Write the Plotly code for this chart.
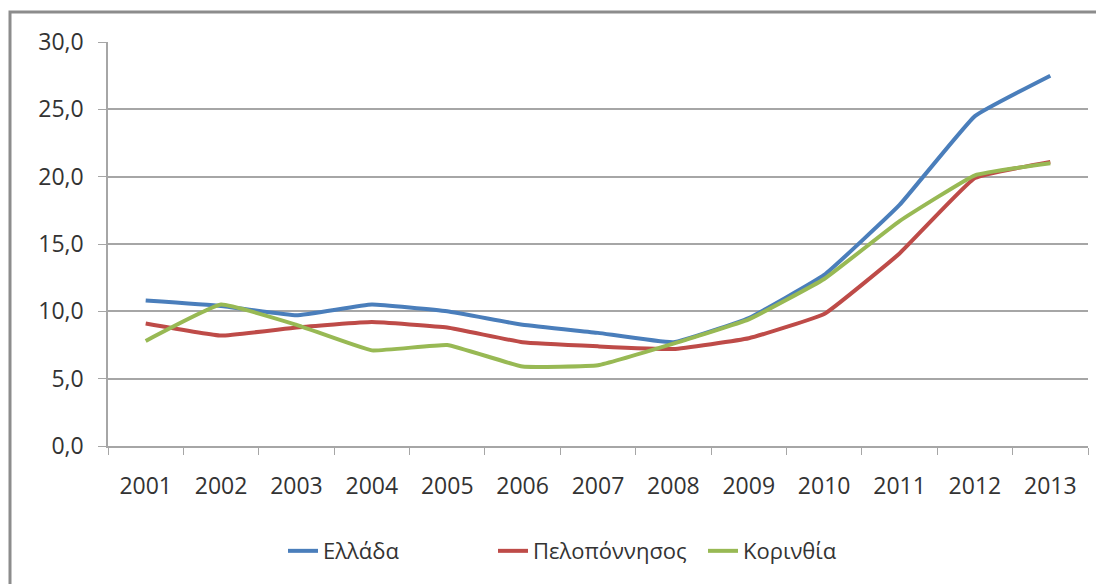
import plotly.graph_objects as go

years = ["2001", "2002", "2003", "2004", "2005", "2006", "2007",
         "2008", "2009", "2010", "2011", "2012", "2013"]
ellada = [10.8, 10.4, 9.7, 10.5, 10.0, 9.0, 8.4, 7.7, 9.5, 12.7, 17.9, 24.5, 27.5]
peloponnisos = [9.1, 8.2, 8.8, 9.2, 8.8, 7.7, 7.4, 7.2, 8.0, 9.8, 14.3, 19.9, 21.1]
korinthia = [7.8, 10.5, 9.0, 7.1, 7.5, 5.9, 6.0, 7.6, 9.4, 12.4, 16.7, 20.1, 21.0]

series = [
    ("Ελλάδα", ellada, "#4a7ebb"),
    ("Πελοπόννησος", peloponnisos, "#be4b48"),
    ("Κορινθία", korinthia, "#98b954"),
]

_GRID = "#a6a6a6"
_TEXT = "#333333"

fig = go.Figure()
for name, vals, colour in series:
    fig.add_trace(
        go.Scatter(
            x=years,
            y=vals,
            mode="lines",
            name=name,
            line={"color": colour, "width": 4, "shape": "spline", "smoothing": 0.3},
        )
    )

# the page body adds an 8px offset, so margins are shifted by that much
fig.update_layout(
    width=1104,
    height=584,
    plot_bgcolor="white",
    paper_bgcolor="white",
    separators=",.",
    font={"family": "Open Sans, sans-serif", "size": 23, "color": _TEXT},
    margin={"l": 100, "r": 24, "t": 34, "b": 146},
    showlegend=True,
    legend={
        "orientation": "h",
        "x": 0.5,
        "xanchor": "center",
        "y": -0.26,
        "yanchor": "middle",
        "font": {"size": 22, "color": _TEXT},
        "itemwidth": 30,
        "entrywidth": 165,
        "entrywidthmode": "pixels",
        "tracegroupgap": 0,
    },
    xaxis={
        "type": "category",
        "range": [-0.5, 12.5],
        "showgrid": False,
        "showline": True,
        "linecolor": _GRID,
        "linewidth": 2,
        "ticks": "outside",
        "tickson": "boundaries",
        "ticklen": 7,
        "tickcolor": _GRID,
        "ticklabelstandoff": 18,
        "tickfont": {"size": 23, "color": _TEXT},
    },
    yaxis={
        "range": [0, 30],
        "dtick": 5,
        "tickformat": ".1f",
        "showgrid": True,
        "gridcolor": _GRID,
        "gridwidth": 1.5,
        "zeroline": False,
        "showline": True,
        "linecolor": _GRID,
        "linewidth": 1.5,
        "ticks": "outside",
        "ticklen": 8,
        "tickcolor": _GRID,
        "ticklabelstandoff": 10,
        "tickfont": {"size": 23, "color": _TEXT},
    },
    shapes=[
        {
            "type": "rect",
            "xref": "paper",
            "yref": "paper",
            "x0": -0.1,
            "x1": 1.03,
            "y0": -0.36,
            "y1": 1.074,
            "line": {"color": "#8c8c8c", "width": 3},
            "layer": "below",
        }
    ],
)

fig.write_html("out.html")
